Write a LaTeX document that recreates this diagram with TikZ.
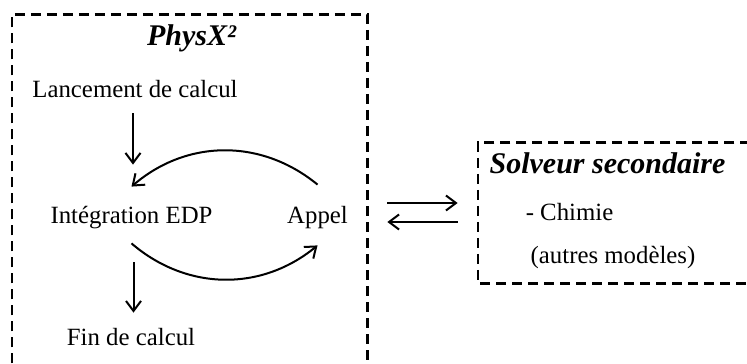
\documentclass[tikz,border=0pt]{standalone}
\usepackage{fontspec}
\setmainfont{Liberation Serif}
\usetikzlibrary{arrows.meta, positioning}

\begin{document}
\begin{tikzpicture}[
        x=0.5pt, y=-0.5pt, % on travaille en pixels de l'image
        txt/.style={inner sep=0pt, text height=9pt, text depth=3pt, font=\fontsize{12.4}{15}\selectfont},
        titre/.style={inner sep=0pt, text height=11pt, text depth=3.5pt, font=\fontsize{15}{18}\selectfont\bfseries\itshape},
        frame/.style={draw=none, inner sep=0pt},
        cadre/.style={dash pattern=on 5pt off 3pt, line width=1.1pt},
        arrow/.style={-{Straight Barb[length=5pt,width=7.5pt]}, line width=1pt}
    ]
        \clip (0,0) rectangle (747,363);

        % --- PhysX^2 ---
        \node[frame, minimum width=177.5pt, minimum height=190pt] (physx) at (189.5,205) {};
        \draw[cadre] (physx.south west) -- (physx.north west) -- (physx.north east) -- (physx.south east);
        \node[titre] (titre1) at (191.5,38.5) {PhysX²};
        \node[txt] (lanc) at (135,92) {Lancement de calcul};
        \node[txt] (integ) at (131.5,217) {Intégration EDP};
        \node[txt, right=37pt of integ] (appel) {Appel};
        \node[txt] (fin) at (131,339) {Fin de calcul};

        \draw[arrow, shorten <=4.5pt, shorten >=20pt] ([xshift=-1pt]lanc.south) -- ([xshift=-1pt]lanc.south |- integ.north);
        \draw[arrow, shorten <=16.5pt, shorten >=7pt] ([xshift=1pt]integ.south) -- ([xshift=1pt]integ.south |- fin.north);
        % boucle d'appel
        \draw[arrow] ([yshift=10pt]appel.north) to[bend right=40] ([yshift=9pt]integ.north);
        \draw[arrow] ([yshift=-7pt]integ.south) to[bend right=40] ([yshift=-8pt]appel.south);

        % --- Solveur secondaire ---
        \node[frame, minimum width=160pt, minimum height=70pt] (solv) at (638,213) {};
        \draw[cadre] (solv.north east) -- (solv.north west) -- (solv.south west) -- (solv.south east);
        \node[titre] (titre2) at (607.5,165.5) {Solveur secondaire};
        \node[txt] (chimie) at (569.5,214) {- Chimie};
        \node[txt] (autres) at (613,257) {(autres modèles)};

        % echanges entre les deux
        \draw[arrow, shorten <=10pt, shorten >=10pt] ([yshift=1pt]physx.east) -- ([yshift=1pt]physx.east -| solv.west);
        \draw[arrow, shorten <=10pt, shorten >=10pt] ([yshift=-8.5pt]physx.east -| solv.west) -- ([yshift=-8.5pt]physx.east);
\end{tikzpicture}
\end{document}
